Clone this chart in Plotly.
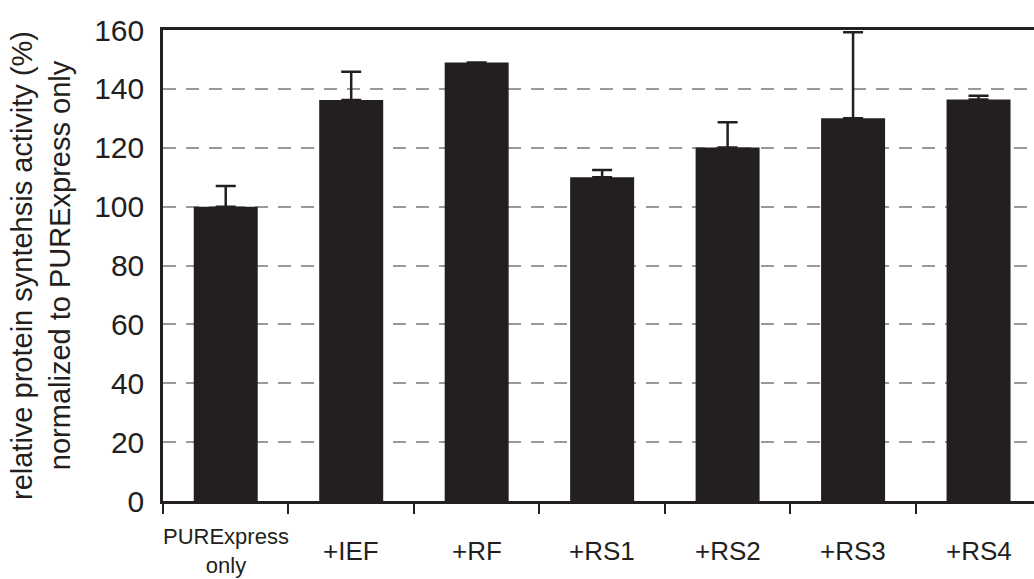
import plotly.graph_objects as go

categories = ["PURExpress only", "+IEF", "+RF", "+RS1", "+RS2", "+RS3", "+RS4"]
tick_labels = ["PURExpress<br>only", "+IEF", "+RF", "+RS1", "+RS2", "+RS3", "+RS4"]
activity = [100, 136.2, 149, 110, 120.1, 130, 136.4]
error_plus = [7, 9.6, None, 2.4, 8.6, 29.2, 1.3]
y_ticks = [0, 20, 40, 60, 80, 100, 120, 140, 160]

INK = "#231f20"
FONT = "Liberation Sans, Arial, sans-serif"

fig = go.Figure()
fig.add_trace(go.Bar(
    x=categories,
    y=activity,
    marker=dict(color=INK, line=dict(width=0)),
    error_y=dict(
        type="data",
        array=error_plus,
        arrayminus=[0] * len(categories),
        symmetric=False,
        color=INK,
        thickness=2.5,
        width=10,
    ),
    cliponaxis=False,
    showlegend=False,
))

for cat, lab in zip(categories, tick_labels):
    size = 22 if "<br>" in lab else 26
    fig.add_annotation(
        x=cat, xref="x", y=0, yref="paper",
        yanchor="middle", xanchor="center",
        yshift=-50,
        text=lab, showarrow=False,
        font=dict(family=FONT, size=size, color="#231f20"),
    )

fig.update_layout(
    width=1034, height=579,
    margin=dict(l=163, r=0, t=30, b=78),
    paper_bgcolor="white",
    plot_bgcolor="white",
    bargap=0.49,
    font=dict(family=FONT, color=INK),
    xaxis=dict(
        type="category",
        categoryorder="array",
        categoryarray=categories,
        range=[-0.5, 6.442],
        showticklabels=False,
        tickson="boundaries",
        ticks="outside",
        ticklen=10,
        tickwidth=2,
        tickcolor=INK,
        showline=True,
        linecolor=INK,
        linewidth=2.5,
        mirror=True,
        showgrid=False,
        zeroline=False,
    ),
    yaxis=dict(
        range=[0, 160],
        tickvals=y_ticks,
        ticktext=[str(v) for v in y_ticks],
        tickfont=dict(family=FONT, size=30, color="#231f20"),
        ticks="",
        ticklabelstandoff=10,
        showline=True,
        linecolor=INK,
        linewidth=2.5,
        showgrid=True,
        gridcolor="#9a9a9a",
        gridwidth=2,
        griddash="13px,10px",
        zeroline=False,
        title=dict(
            text="relative protein syntehsis activity (%)<br>normalized to PURExpress only",
            font=dict(family=FONT, size=29, color="#231f20"),
            standoff=16,
        ),
    ),
)

fig.write_html(
    "out.html",
    config={"displayModeBar": False},
    post_script="document.body.style.margin='0';",
)
